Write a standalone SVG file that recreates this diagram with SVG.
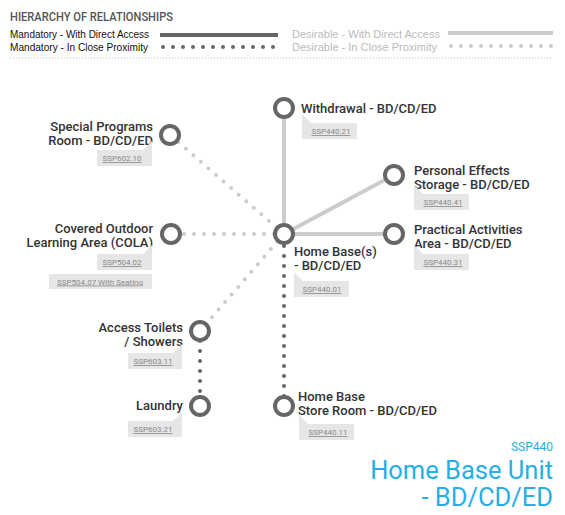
<svg xmlns="http://www.w3.org/2000/svg" width="565" height="515" viewBox="0 0 565 515">
<style>
.bg{fill:#fff}
.hdr{font-family:Roboto,"Liberation Sans",sans-serif;font-size:12.5px;font-weight:500;fill:#555}
.lg{font-family:"Liberation Sans",Arial,sans-serif;font-size:11.5px}
.lgm{fill:#111}
.lgd{fill:#bbb}
.lbl{font-family:Roboto,"Liberation Sans",sans-serif;font-size:13px;font-weight:500;fill:#333}
.r{text-anchor:end}
.tag{fill:#e6e6e6}
.tagt{font-family:Roboto,"Liberation Sans",sans-serif;font-size:8px;fill:#888;text-decoration:underline;text-anchor:middle}
.node{fill:#fff;stroke:#666;stroke-width:4}
.md{stroke:#666;stroke-width:4;fill:none}
.mp{stroke:#666;stroke-width:4;stroke-linecap:round;stroke-dasharray:0 10;fill:none}
.dd{stroke:#ccc;stroke-width:4;fill:none}
.dp{stroke:#ccc;stroke-width:4;stroke-linecap:round;stroke-dasharray:0 10;fill:none}
.ttl{font-family:Roboto,"Liberation Sans",sans-serif;fill:#27aee4;text-anchor:end}
</style>
<rect class="bg" x="0" y="0" width="565" height="515"/>
<g id="legend">
<text class="hdr" x="10" y="21" textLength="163" lengthAdjust="spacingAndGlyphs">HIERARCHY OF RELATIONSHIPS</text>
<text class="lg lgm" x="10" y="38" textLength="139" lengthAdjust="spacingAndGlyphs">Mandatory - With Direct Access</text>
<text class="lg lgm" x="10" y="51" textLength="138" lengthAdjust="spacingAndGlyphs">Mandatory - In Close Proximity</text>
<text class="lg lgd" x="292" y="38" textLength="148" lengthAdjust="spacingAndGlyphs">Desirable - With Direct Access</text>
<text class="lg lgd" x="292" y="51" textLength="145" lengthAdjust="spacingAndGlyphs">Desirable - In Close Proximity</text>
<line class="md" x1="160" y1="35" x2="278" y2="35"/>
<line class="mp" stroke-width="3.5" x1="163" y1="47" x2="278" y2="47"/>
<line class="dd" x1="448" y1="33" x2="553" y2="33"/>
<line class="dp" stroke-width="3.5" x1="451" y1="46" x2="553" y2="46"/>
<line x1="10" y1="58" x2="553" y2="58" stroke="#bbb" stroke-width="1" stroke-dasharray="1 2"/>
</g>
<g id="connectors">
<line class="dd" x1="284" y1="234" x2="284" y2="108"/>
<line class="dd" x1="284" y1="234" x2="394" y2="175"/>
<line class="dd" x1="284" y1="234" x2="394" y2="234"/>
<line class="dp" x1="284" y1="234" x2="170" y2="135"/>
<line class="dp" x1="284" y1="234" x2="171" y2="234"/>
<line class="dp" x1="284" y1="234" x2="200" y2="331"/>
<line class="mp" x1="284" y1="246" x2="284" y2="406"/>
<line class="mp" x1="200" y1="331" x2="200" y2="406"/>
</g>
<g id="home-base">
<circle class="node" cx="284" cy="234" r="9"/>
<text class="lbl" x="294" y="256">Home Base(s)</text>
<text class="lbl" x="294" y="270">- BD/CD/ED</text>
<polygon class="tag" points="294,272 303,281 349,281 349,297 294,297"/>
<text class="tagt" x="322" y="292">SSP440.01</text>
</g>
<g id="withdrawal">
<circle class="node" cx="284" cy="108" r="9"/>
<text class="lbl" x="301" y="113">Withdrawal - BD/CD/ED</text>
<polygon class="tag" points="302,114 311,123 357,123 357,139 302,139"/>
<text class="tagt" x="331" y="134">SSP440.21</text>
</g>
<g id="special-programs">
<circle class="node" cx="170" cy="135" r="9"/>
<text class="lbl r" x="153" y="131">Special Programs</text>
<text class="lbl r" x="153" y="145">Room - BD/CD/ED</text>
<polygon class="tag" points="97,150 143,150 152,141 152,166 97,166"/>
<text class="tagt" x="122" y="161">SSP602.10</text>
</g>
<g id="personal-effects">
<circle class="node" cx="394" cy="175" r="9"/>
<text class="lbl" x="414" y="175">Personal Effects</text>
<text class="lbl" x="414" y="189">Storage - BD/CD/ED</text>
<polygon class="tag" points="414,185 423,194 469,194 469,210 414,210"/>
<text class="tagt" x="443" y="205">SSP440.41</text>
</g>
<g id="practical-activities">
<circle class="node" cx="394" cy="234" r="9"/>
<text class="lbl" x="414" y="234">Practical Activities</text>
<text class="lbl" x="414" y="248">Area - BD/CD/ED</text>
<polygon class="tag" points="414,245 423,254 469,254 469,270 414,270"/>
<text class="tagt" x="443" y="265">SSP440.31</text>
</g>
<g id="cola">
<circle class="node" cx="171" cy="234" r="9"/>
<text class="lbl r" x="153" y="233">Covered Outdoor</text>
<text class="lbl r" x="153" y="247">Learning Area (COLA)</text>
<polygon class="tag" points="97,254 143,254 152,245 152,270 97,270"/>
<text class="tagt" x="122" y="265">SSP504.02</text>
<rect class="tag" x="49" y="274" width="103" height="15"/>
<text class="tagt" x="100" y="284.5">SSP504.07 With Seating</text>
</g>
<g id="access-toilets">
<circle class="node" cx="200" cy="331" r="9"/>
<text class="lbl r" x="183" y="332">Access Toilets</text>
<text class="lbl r" x="183" y="346">/ Showers</text>
<polygon class="tag" points="128,353 173,353 182,344 182,369 128,369"/>
<text class="tagt" x="153" y="364">SSP603.11</text>
</g>
<g id="laundry">
<circle class="node" cx="200" cy="406" r="9"/>
<text class="lbl r" x="183" y="410">Laundry</text>
<polygon class="tag" points="128,421 173,421 182,412 182,437 128,437"/>
<text class="tagt" x="153" y="432">SSP603.21</text>
</g>
<g id="store-room">
<circle class="node" cx="284" cy="406" r="9"/>
<text class="lbl" x="298" y="401">Home Base</text>
<text class="lbl" x="298" y="415">Store Room - BD/CD/ED</text>
<polygon class="tag" points="299,415 308,424 354,424 354,440 299,440"/>
<text class="tagt" x="328" y="435">SSP440.11</text>
</g>
<g id="title">
<text class="ttl" x="553" y="451" font-size="12">SSP440</text>
<text class="ttl" x="553" y="479" font-size="25.5">Home Base Unit</text>
<text class="ttl" x="553" y="506" font-size="25.5">- BD/CD/ED</text>
</g>
</svg>
